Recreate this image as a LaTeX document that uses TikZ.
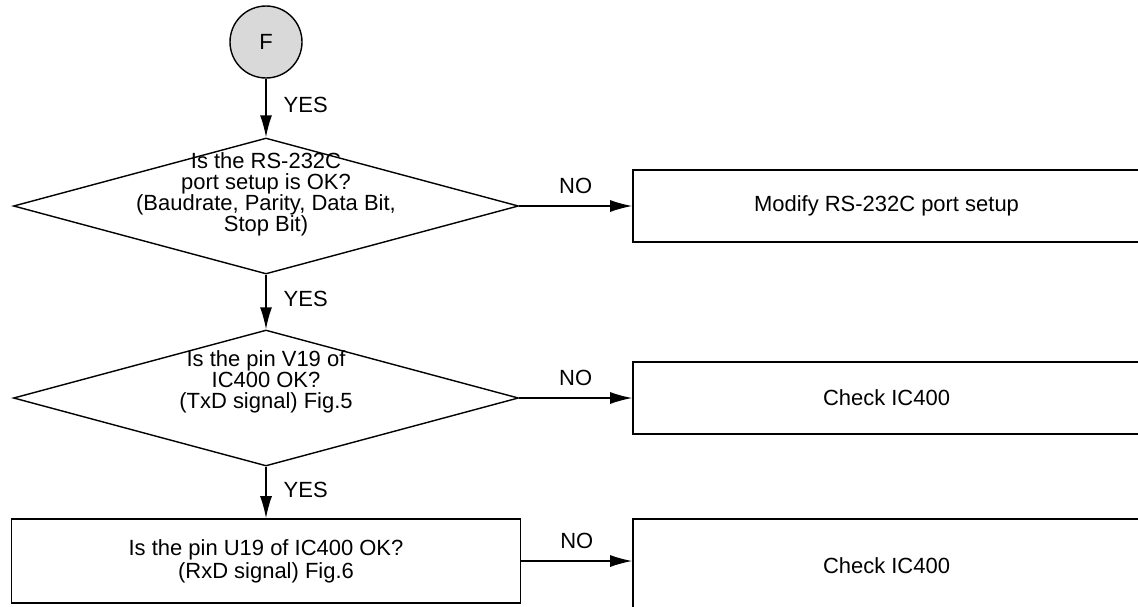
\documentclass[tikz,border=0pt]{standalone}
\usepackage{fontspec}
\setmainfont{Liberation Sans}
\usepackage{tikz}
\usetikzlibrary{arrows.meta,positioning,shapes.geometric}
\tikzstyle{connNode}=[circle, draw=black, fill=gray!30, line width=0.8pt,
  minimum size=1.44cm, inner sep=0pt, font=\fontsize{12.5}{12}\selectfont]
\tikzstyle{decisionNode}=[diamond, draw=black, line width=0.8pt,
  minimum width=10.1cm, minimum height=2.72cm, inner sep=0pt]
\tikzstyle{questionText}=[align=center, inner sep=0pt, font=\fontsize{12.5}{12}\selectfont]
\tikzstyle{actionNode}=[rectangle, draw=black, line width=0.9pt, minimum width=10.14cm,
  minimum height=1.44cm, align=center, font=\fontsize{12.5}{13}\selectfont]
\tikzstyle{arr}=[-{Latex[length=4.4mm, width=2.4mm]}, line width=0.8pt]
\tikzstyle{branchLabel}=[inner sep=2pt, font=\fontsize{12.5}{12}\selectfont]

\begin{document}
\begin{tikzpicture}
\useasboundingbox (0,0) rectangle (22.76,-12.12);
\clip (0,0) rectangle (22.76,-12.12);

\node[connNode] (start) at (5.32,-0.84) {F};
\node[decisionNode] (q1) at (5.32,-4.12) {};
\node[questionText] (q1txt) at (5.32,-3.88) {Is the RS-232C\\port setup is OK?\\(Baudrate, Parity, Data Bit,\\Stop Bit)};
\node[decisionNode] (q2) at (5.32,-7.96) {};
\node[questionText] (q2txt) at (5.32,-7.64) {Is the pin V19 of\\IC400 OK?\\(TxD signal) Fig.5};
\node[actionNode, minimum width=10.18cm, minimum height=1.68cm] (u19) at (5.32,-11.22) {Is the pin U19 of IC400 OK?\\(RxD signal) Fig.6};
\node[actionNode] (modport) at (17.73,-4.12) {Modify RS-232C port setup};
\node[actionNode] (chkv) at (17.73,-7.96) {Check IC400};
\node[actionNode, minimum height=1.86cm] (chku) at (17.73,-11.31) {Check IC400};

\draw[arr] (start) -- (q1) node[branchLabel, pos=0.45, right=0.27cm] {YES};
\draw[arr] (q1) -- (q2) node[branchLabel, pos=0.45, right=0.27cm] {YES};
\draw[arr] (q2) -- (u19) node[branchLabel, pos=0.45, right=0.27cm] {YES};
\draw[arr] (q1.east) -- (modport.west) node[branchLabel, midway, above=0.17cm] {NO};
\draw[arr] (q2.east) -- (chkv.west) node[branchLabel, midway, above=0.17cm] {NO};
\draw[arr] (u19.east) -- (u19.east -| chku.west) node[branchLabel, midway, above=0.17cm] {NO};
\end{tikzpicture}
\end{document}
